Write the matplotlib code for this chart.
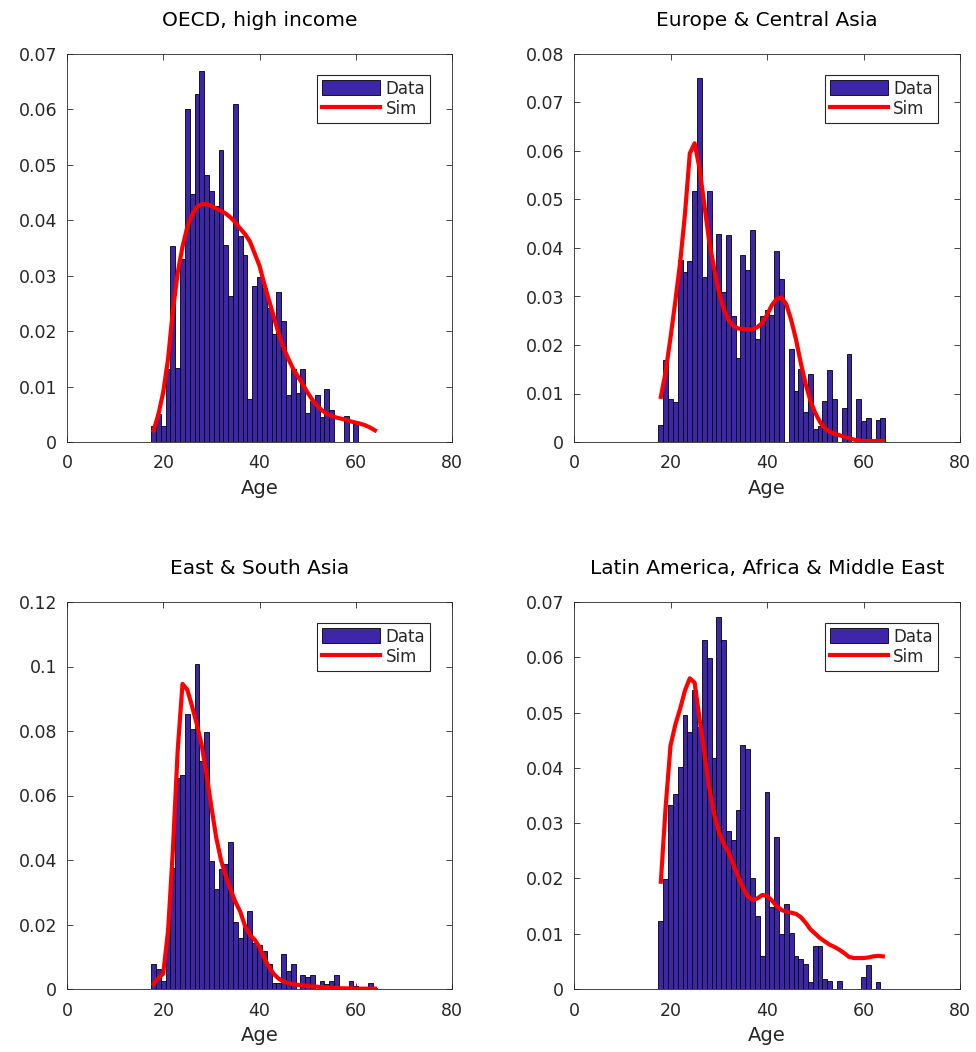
import matplotlib
matplotlib.use("Agg")
import matplotlib.pyplot as plt
from matplotlib.ticker import FuncFormatter
import numpy as np

plt.rcParams.update({"font.family": "DejaVu Sans", "font.size": 12,
                     "text.color": "#262626", "axes.labelcolor": "#262626",
                     "xtick.color": "#262626", "ytick.color": "#262626"})

BAR = "#3E26A8"   # parula blue used for the data histogram
SIM = "#FF0000"
INK = "#262626"

ages = np.arange(18, 65)

# share of entrants by age (data) and model simulation, one value per year of age 18..64
oecd_data = [0.0029, 0.0051, 0.0029, 0.0131, 0.0354, 0.0134, 0.0331, 0.0601, 0.0448, 0.0628,
             0.0669, 0.0481, 0.0452, 0.0426, 0.0526, 0.0355, 0.0264, 0.0610, 0.0372, 0.0337,
             0.0077, 0.0282, 0.0297, 0.0278, 0.0241, 0.0194, 0.0270, 0.0219, 0.0084, 0.0131,
             0.0089, 0.0131, 0.0052, 0.0074, 0.0084, 0.0046, 0.0096, 0.0058, 0.0, 0.0,
             0.0047, 0.0, 0.0033, 0.0, 0.0, 0.0, 0.0]
oecd_sim = [0.0021, 0.0050, 0.0090, 0.0150, 0.0237, 0.0305, 0.0352, 0.0388, 0.0410, 0.0424,
            0.0429, 0.0429, 0.0426, 0.0421, 0.0417, 0.0412, 0.0405, 0.0396, 0.0385, 0.0375,
            0.0362, 0.0340, 0.0318, 0.0285, 0.0255, 0.0225, 0.0195, 0.0170, 0.0150, 0.0132,
            0.0118, 0.0104, 0.0089, 0.0076, 0.0065, 0.0057, 0.0051, 0.0047, 0.0044, 0.0042,
            0.0040, 0.0037, 0.0035, 0.0033, 0.0030, 0.0026, 0.0021]

eca_data = [0.0036, 0.0169, 0.0088, 0.0083, 0.0375, 0.0350, 0.0373, 0.0517, 0.0750, 0.0340,
            0.0517, 0.0360, 0.0428, 0.0309, 0.0426, 0.0260, 0.0173, 0.0386, 0.0355, 0.0437,
            0.0212, 0.0259, 0.0272, 0.0261, 0.0394, 0.0337, 0.0, 0.0191, 0.0105, 0.0150,
            0.0061, 0.0141, 0.0026, 0.0034, 0.0085, 0.0148, 0.0088, 0.0, 0.0071, 0.0181,
            0.0, 0.0088, 0.0043, 0.0050, 0.0, 0.0045, 0.0050]
eca_sim = [0.0093, 0.0145, 0.0215, 0.0290, 0.0370, 0.0470, 0.0595, 0.0616, 0.0565, 0.0490,
           0.0415, 0.0360, 0.0310, 0.0275, 0.0252, 0.0240, 0.0234, 0.0233, 0.0232, 0.0232,
           0.0237, 0.0245, 0.0262, 0.0282, 0.0295, 0.0298, 0.0284, 0.0252, 0.0212, 0.0163,
           0.0120, 0.0085, 0.0060, 0.0041, 0.0028, 0.0021, 0.0017, 0.0014, 0.0011, 0.0008,
           0.0005, 0.0003, 0.0002, 0.0002, 0.0002, 0.0002, 0.0002]

asia_data = [0.0078, 0.0062, 0.0025, 0.0188, 0.0375, 0.0655, 0.0663, 0.0854, 0.0806, 0.1008,
             0.0708, 0.0798, 0.0398, 0.0310, 0.0372, 0.0389, 0.0455, 0.0207, 0.0159, 0.0191,
             0.0241, 0.0143, 0.0137, 0.0117, 0.0078, 0.0020, 0.0020, 0.0109, 0.0055, 0.0079,
             0.0, 0.0042, 0.0037, 0.0044, 0.0, 0.0024, 0.0015, 0.0026, 0.0042, 0.0,
             0.0, 0.0025, 0.0008, 0.0, 0.0, 0.0019, 0.0003]
asia_sim = [0.0016, 0.0033, 0.0048, 0.0180, 0.0430, 0.0740, 0.0946, 0.0928, 0.0876, 0.0820,
            0.0755, 0.0665, 0.0565, 0.0470, 0.0400, 0.0350, 0.0308, 0.0270, 0.0240, 0.0195,
            0.0168, 0.0153, 0.0130, 0.0095, 0.0068, 0.0046, 0.0032, 0.0023, 0.0018, 0.0015,
            0.0013, 0.0011, 0.0009, 0.0008, 0.0007, 0.0006, 0.0005, 0.0004, 0.0003, 0.0002,
            0.0002, 0.0002, 0.0001, 0.0001, 0.0001, 0.0001, 0.0001]

lame_data = [0.0123, 0.0199, 0.0332, 0.0352, 0.0402, 0.0496, 0.0464, 0.0540, 0.0473, 0.0631,
             0.0598, 0.0417, 0.0672, 0.0631, 0.0285, 0.0270, 0.0323, 0.0441, 0.0434, 0.0201,
             0.0132, 0.0059, 0.0357, 0.0148, 0.0275, 0.0100, 0.0154, 0.0102, 0.0060, 0.0054,
             0.0046, 0.0013, 0.0077, 0.0077, 0.0018, 0.0014, 0.0, 0.0014, 0.0, 0.0,
             0.0, 0.0, 0.0022, 0.0044, 0.0, 0.0013, 0.0]
lame_sim = [0.0194, 0.0330, 0.0440, 0.0478, 0.0507, 0.0540, 0.0562, 0.0554, 0.0490, 0.0428,
            0.0365, 0.0318, 0.0285, 0.0263, 0.0248, 0.0226, 0.0204, 0.0183, 0.0168, 0.0161,
            0.0164, 0.0170, 0.0169, 0.0160, 0.0150, 0.0143, 0.0140, 0.0138, 0.0136, 0.0130,
            0.0120, 0.0108, 0.0100, 0.0092, 0.0086, 0.0080, 0.0076, 0.0071, 0.0065, 0.0058,
            0.0056, 0.0056, 0.0056, 0.0057, 0.0059, 0.0060, 0.0059]

titles = ["OECD, high income", "Europe & Central Asia",
          "East & South Asia", "Latin America, Africa & Middle East"]
ymaxes = [0.07, 0.08, 0.12, 0.07]
ysteps = [0.01, 0.01, 0.02, 0.01]
panels = [(oecd_data, oecd_sim), (eca_data, eca_sim), (asia_data, asia_sim), (lame_data, lame_sim)]

W, H = 976, 1052
fig = plt.figure(figsize=(W / 100, H / 100), dpi=100)
# axes boxes in pixels: left, top, right, bottom
boxes = [(67, 54, 452, 442), (574, 54, 960, 442),
         (67, 602, 452, 989), (574, 602, 960, 989)]

fmt = FuncFormatter(lambda v, _: "0" if abs(v) < 1e-12 else f"{v:g}")

for (data, sim), title, ymax, step, (l, t, r, b) in zip(panels, titles, ymaxes, ysteps, boxes):
    ax = fig.add_axes([l / W, 1 - b / H, (r - l) / W, (b - t) / H])
    bars = ax.bar(ages, data, width=1.0, color=BAR, edgecolor="black", linewidth=0.6,
                  label="Data", zorder=2)
    line, = ax.plot(ages, sim, color=SIM, lw=3, label="Sim", zorder=3)
    ax.set_xlim(0, 80)
    ax.set_ylim(0, ymax)
    ax.set_xticks([0, 20, 40, 60, 80])
    ax.set_yticks(np.round(np.arange(0, ymax + step / 2, step), 4))
    ax.yaxis.set_major_formatter(fmt)
    ax.tick_params(direction="in", top=True, right=True, length=4, width=0.6,
                   labelsize=12.5, pad=7)
    ax.tick_params(axis="x", pad=9)
    for s in ax.spines.values():
        s.set_color(INK)
        s.set_linewidth(0.6)
    ax.set_title(title, fontsize=14.5, pad=20, color="black")
    ax.set_xlabel("Age", fontsize=14, labelpad=5)
    leg = ax.legend([bars, line], ["Data", "Sim"], loc="upper right",
                    bbox_to_anchor=(0.943, 0.947), borderaxespad=0,
                    fancybox=False, edgecolor=INK, framealpha=1, fontsize=12,
                    handlelength=3.5, handleheight=1.0, handletextpad=0.3,
                    labelspacing=0.15, borderpad=0.3)
    leg.get_frame().set_linewidth(0.8)

fig.savefig("out.png", dpi=100, facecolor="white")
